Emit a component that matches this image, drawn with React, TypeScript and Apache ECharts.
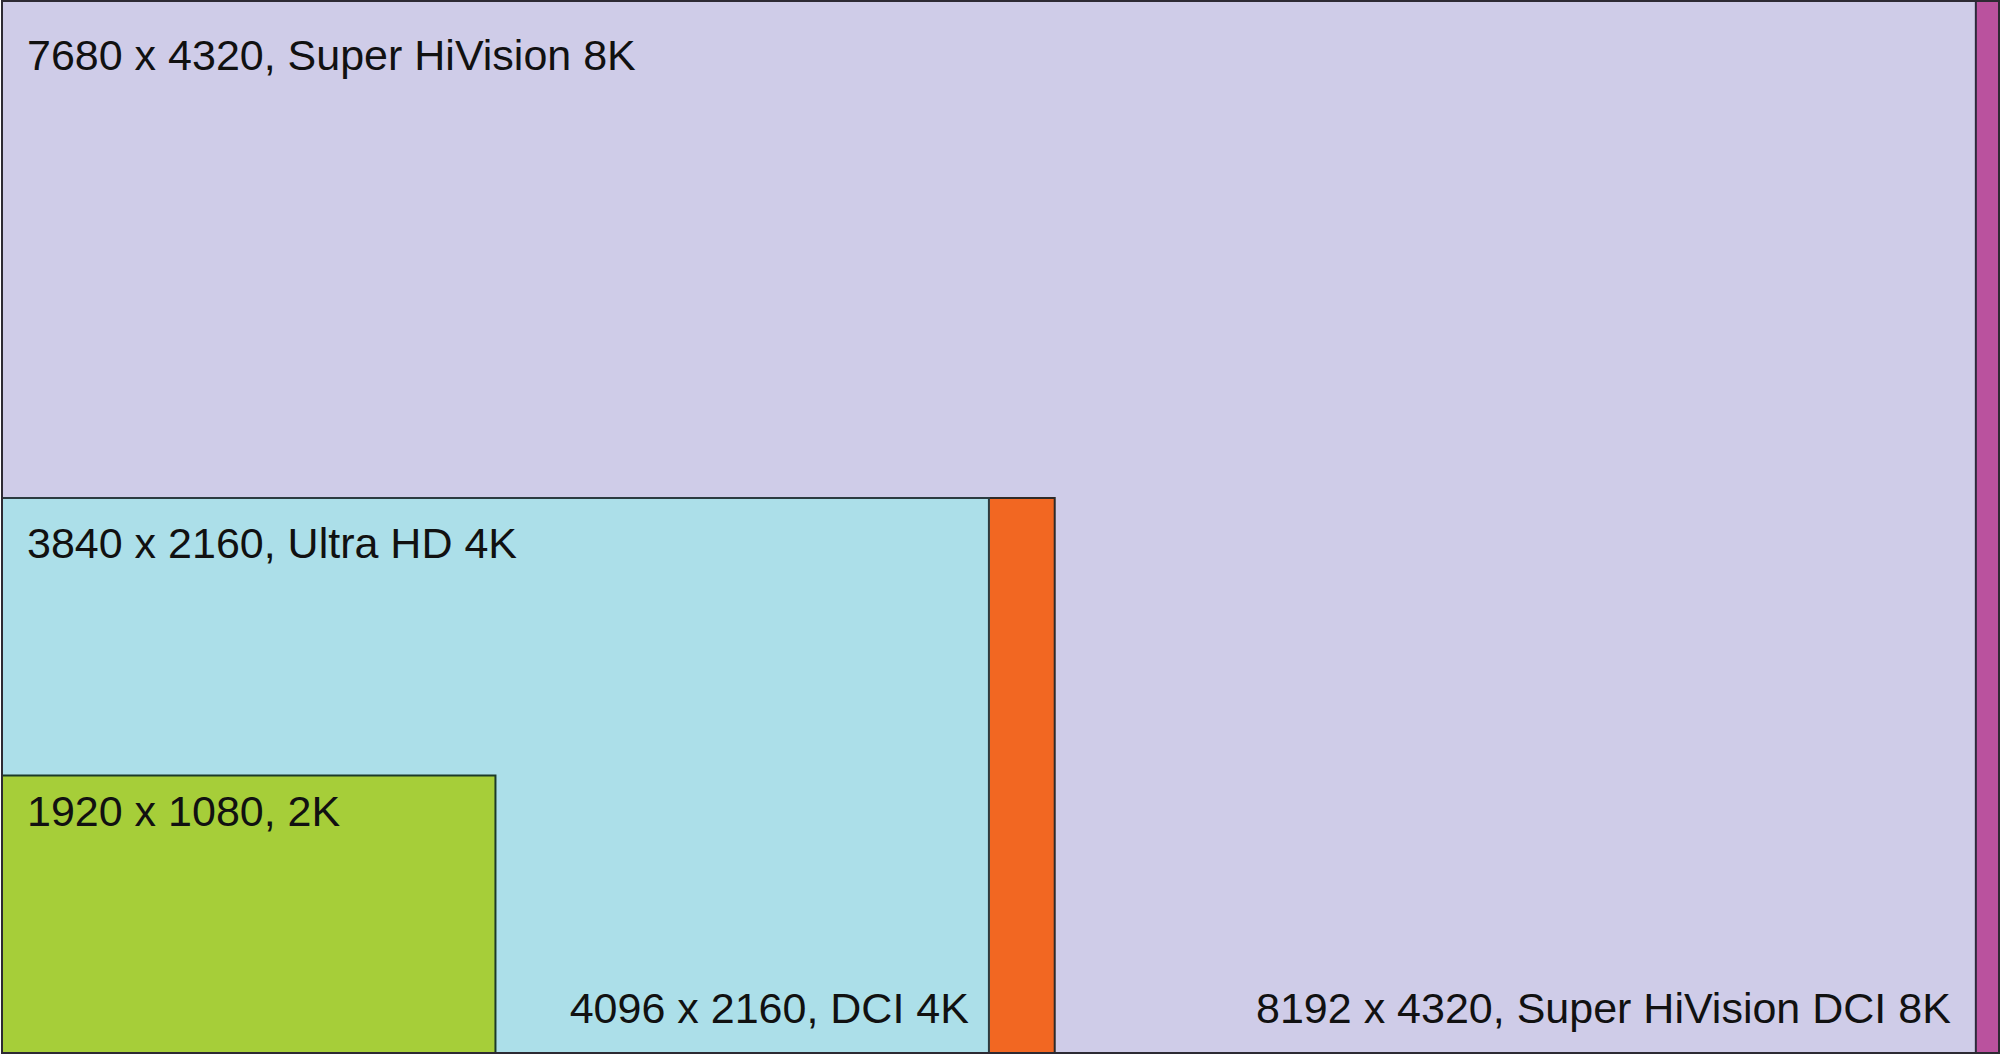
import React, { useEffect, useRef } from "react";
import * as echarts from "echarts";

// Formats, drawn from the largest to the smallest
const labels = [
  "8192 x 4320, Super HiVision DCI 8K",
  "7680 x 4320, Super HiVision 8K",
  "4096 x 2160, DCI 4K",
  "3840 x 2160, Ultra HD 4K",
  "1920 x 1080, 2K",
];
const widths = [8192, 7680, 4096, 3840, 1920];
const heights = [4320, 4320, 2160, 2160, 1080];

// Styles (kept apart from data)
const fills = ["#BA529E", "#CFCCE8", "#F26722", "#ACDFE9", "#A6CE39"];
const strokes = ["#4a1f48", "#2c2a3a", "#2e2a28", "#2c3b40", "#1c3a28"];
// label placement: "br" = bottom-right (inside the next narrower frame), "tl" = top-left
const labelSide = ["br", "tl", "br", "tl", "tl"];
const labelDy = [-45, 54, -45, 45, 35];
const labelDx = [-25, 25, -20, 25, 25];

const FONT = '43px "Liberation Sans", Arial, Helvetica, sans-serif';

export default function App() {
  const ref = useRef<HTMLDivElement>(null);
  useEffect(() => {
    document.body.style.margin = "0";
    const chart = echarts.init(ref.current!, null, { renderer: "svg" });
    const data = widths.map((w, i) => [w, heights[i]]);
    chart.setOption({
      animation: false,
      backgroundColor: "#ffffff",
      grid: { left: 2, right: 0, top: 1, bottom: 2 },
      xAxis: { type: "value", min: 0, max: 7774, show: false },
      yAxis: { type: "value", min: 0, max: 4095, show: false },
      graphic: [
        {
          type: "rect",
          z: 100,
          silent: true,
          shape: { x: 2, y: 1, width: 1997, height: 1052 },
          style: { fill: "transparent", stroke: "#2d2a33", lineWidth: 2 },
        },
      ],
      series: [
        {
          type: "custom",
          clip: false,
          data,
          renderItem: (params: any, api: any) => {
            const i = params.dataIndex;
            const p0 = api.coord([0, 0]);
            const p1 = api.coord([api.value(0), api.value(1)]);
            return {
              type: "rect",
              shape: {
                x: p0[0],
                y: p1[1],
                width: p1[0] - p0[0],
                height: p0[1] - p1[1],
              },
              style: { fill: fills[i], stroke: strokes[i], lineWidth: 2 },
            };
          },
        },
        {
          type: "custom",
          clip: false,
          z: 3,
          data,
          renderItem: (params: any, api: any) => {
            const i = params.dataIndex;
            const cs = params.coordSys;
            const p0 = api.coord([0, 0]);
            const p1 = api.coord([api.value(0), api.value(1)]);
            if (labelSide[i] === "tl") {
              const top = Math.max(p1[1], cs.y);
              return {
                type: "text",
                style: {
                  text: labels[i],
                  x: p0[0] + labelDx[i],
                  y: top + labelDy[i],
                  font: FONT,
                  fill: "#111111",
                  align: "left",
                  verticalAlign: "middle",
                },
              };
            }
            const right = api.coord([widths[i + 1], 0])[0];
            return {
              type: "text",
              style: {
                text: labels[i],
                x: right + labelDx[i],
                y: p0[1] + labelDy[i],
                font: FONT,
                fill: "#111111",
                align: "right",
                verticalAlign: "middle",
              },
            };
          },
        },
      ],
    });
    return () => chart.dispose();
  }, []);
  return (
    <div
      ref={ref}
      style={{ position: "fixed", left: 0, top: 0, width: 2000, height: 1055 }}
    />
  );
}
